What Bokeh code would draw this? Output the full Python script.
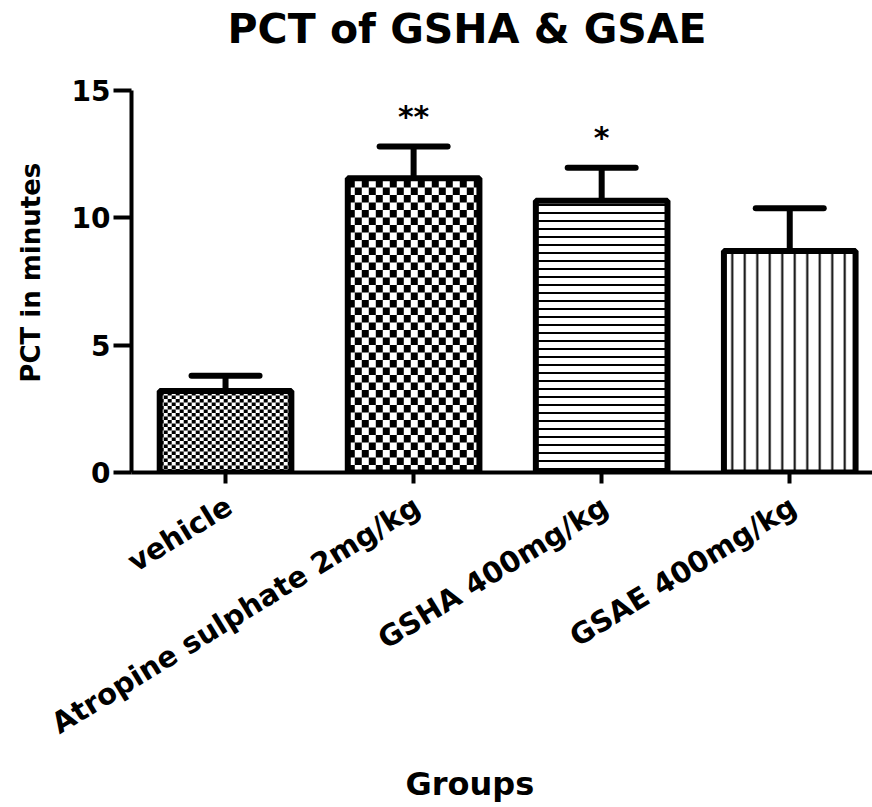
import math
from bokeh.plotting import figure
from bokeh.models import (Range1d, FixedTicker, ColumnDataSource, Whisker, TeeHead,
                          Label, Title, LinearAxis, CustomJSTickFormatter)
from bokeh.core.properties import value
from bokeh.embed import file_html
from bokeh.resources import INLINE

# ---- data ----
groups = ["vehicle", "Atropine sulphate 2mg/kg", "GSHA 400mg/kg", "GSAE 400mg/kg"]
pct_mean = [3.2, 11.55, 10.67, 8.7]
pct_upper = [3.8, 12.8, 11.97, 10.38]
signif = ["", "**", "*", ""]
y_ticks = [0, 5, 10, 15]
title_text = "PCT of GSHA & GSAE"
x_title = "Groups"
y_title = "PCT in minutes"

# ---- styles ----
patterns = ["blank", "blank", "horizontal_line", "vertical_line"]
pattern_scales = [8, 8, 8, 12.5]
pattern_weights = [1, 1, 2, 2]
checker_cells = [(4, 3.5), (7, 7.5), None, None]   # checker cell size in px (w, h)

FONT = "DejaVu Sans"
W, H = 872, 807
ML, MR, MT, MB = 131, 0, 0, 335
TOP_PAD = 90                      # px between frame top and the y=15 tick
X0, X1 = 0.5, 4.44
Y0, YMAX = 0, 15
FRAME_H = H - MT - MB
Y1 = YMAX + TOP_PAD * (YMAX - Y0) / (FRAME_H - TOP_PAD)
BAR_W = 0.7
LABEL_SHIFT = 0.02
NBSP = "\u00a0"

xs = list(range(1, len(groups) + 1))
src = ColumnDataSource(dict(x=xs, top=pct_mean, upper=pct_upper, sig=signif,
                            pat=patterns, sc=pattern_scales, wt=pattern_weights))

p = figure(width=W, height=H, x_range=Range1d(X0, X1), y_range=Range1d(Y0, Y1),
           output_backend="svg", toolbar_location=None,
           min_border_left=ML, min_border_right=MR, min_border_top=MT, min_border_bottom=MB)
p.outline_line_color = None
p.grid.visible = False
p.background_fill_color = "white"

# chart title (inside the frame's empty top band)
p.add_layout(Label(x=96, y=FRAME_H - 28, x_units="screen", y_units="screen",
                   text=title_text, text_font=FONT, text_font_style="bold",
                   text_font_size="41px", text_color="black",
                   text_align="left", text_baseline="alphabetic"))

# error bars (behind bars)
wh = Whisker(base="x", lower="top", upper="upper", source=src,
             line_width=6, line_color="black",
             upper_head=TeeHead(size=68, line_width=6, line_color="black", line_cap="round"),
             lower_head=None, level="underlay")
p.add_layout(wh)

# bar fill + line hatches
p.vbar(x="x", top="top", bottom=0, width=BAR_W, source=src,
       fill_color="white", line_color=None,
       hatch_pattern="pat", hatch_scale="sc", hatch_weight="wt", hatch_color="black")

# checkerboard fills, built from each bar's extent
px_x = (W - ML - MR) / (X1 - X0)
px_y = FRAME_H / (Y1 - Y0)
ql, qr, qb, qt = [], [], [], []
for x, top, cell in zip(xs, pct_mean, checker_cells):
    if cell is None:
        continue
    cw, ch = cell[0] / px_x, cell[1] / px_y
    left, right = x - BAR_W / 2, x + BAR_W / 2
    ncol = math.ceil(BAR_W / cw)
    nrow = math.ceil(top / ch)
    for i in range(ncol):
        for j in range(nrow):
            if (i + j) % 2:
                continue
            l = left + i * cw
            b = j * ch
            ql.append(l)
            qr.append(min(l + cw, right))
            qb.append(b)
            qt.append(min(b + ch, top))
p.quad(left=ql, right=qr, bottom=qb, top=qt, fill_color="black", line_color=None)

# bar outlines
p.vbar(x="x", top="top", bottom=0, width=BAR_W, source=src,
       fill_color=None, line_color="black", line_width=6)

p.text(x="x", y="upper", text="sig", source=src, text_align="center",
       text_baseline="alphabetic", y_offset=-30, text_font=value(FONT),
       text_font_style="bold", text_font_size="30px", text_color="black")

for ax in (p.xaxis[0], p.yaxis[0]):
    ax.axis_line_width = 4
    ax.axis_line_color = "black"
    ax.major_tick_line_width = 4
    ax.major_tick_line_color = "black"
    ax.major_tick_in = 0
    ax.minor_tick_line_color = None
    ax.major_label_text_font = FONT
    ax.major_label_text_font_style = "bold"
    ax.major_label_text_font_size = "28px"
    ax.major_label_text_color = "black"
    ax.axis_label_text_font = FONT
    ax.axis_label_text_font_style = "bold"
    ax.axis_label_text_font_size = "26px"
    ax.axis_label_text_color = "black"

p.yaxis[0].ticker = FixedTicker(ticks=y_ticks)
p.yaxis[0].bounds = (Y0, YMAX)
p.yaxis[0].major_tick_out = 18
p.yaxis[0].major_label_standoff = 3
# trailing no-break spaces shift the centred label down to the middle of the 0-15 span
p.yaxis[0].axis_label = y_title + NBSP * 8
p.yaxis[0].axis_label_standoff = 23

# x axis: line + ticks only
p.xaxis[0].ticker = FixedTicker(ticks=xs)
p.xaxis[0].major_tick_out = 11
p.xaxis[0].formatter = CustomJSTickFormatter(code="return ''")
p.xaxis[0].major_label_text_font_size = "0px"
p.xaxis[0].major_label_standoff = 0

# x axis labels (rotated, anchored slightly right of each tick)
lab_axis = LinearAxis(ticker=FixedTicker(ticks=[x + LABEL_SHIFT for x in xs]),
                      formatter=CustomJSTickFormatter(args=dict(labels=groups),
                                                      code="return labels[index]"),
                      axis_line_color=None, major_tick_line_color=None,
                      minor_tick_line_color=None, major_tick_out=0, major_tick_in=0,
                      major_label_orientation=0.55, major_label_standoff=20,
                      major_label_text_font=FONT, major_label_text_font_style="bold",
                      major_label_text_font_size="29px", major_label_text_color="black")
p.add_layout(lab_axis, "below")

p.add_layout(Title(text=x_title, align="left", offset=274, text_font=FONT,
                   text_font_style="bold", text_font_size="32px", text_color="black",
                   standoff=8), "below")

open("out.html", "w").write(file_html(p, INLINE))
